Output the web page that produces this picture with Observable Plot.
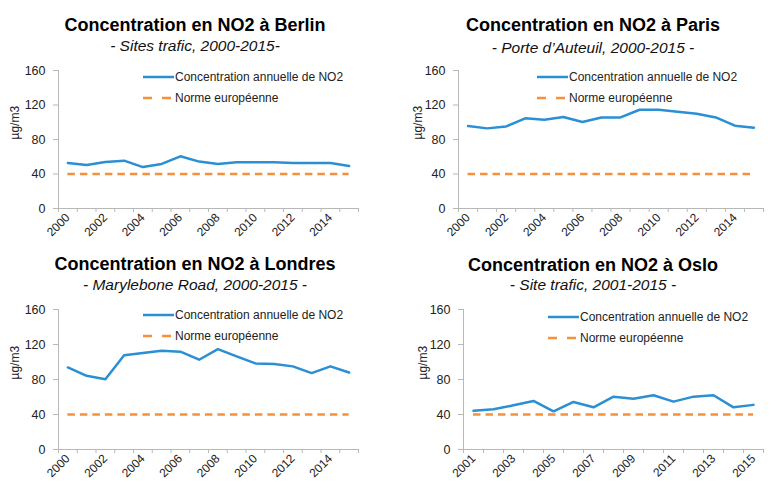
<!DOCTYPE html>
<html>
<head>
<meta charset="utf-8">
<script src="https://cdn.jsdelivr.net/npm/d3@7"></script>
<script src="https://cdn.jsdelivr.net/npm/@observablehq/plot@0.6"></script>
<style>
  html, body { margin: 0; padding: 0; background: #fff; }
  #root { position: relative; width: 779px; height: 504px; overflow: hidden; font-family: "Liberation Sans", Arial, Helvetica, sans-serif; color: #111; }
  .panel { position: absolute; }
  .title { position: absolute; text-align: center; font-weight: bold; font-size: 18px; line-height: 1; white-space: nowrap; color: #000; }
  .subtitle { position: absolute; text-align: center; font-style: italic; font-size: 15.5px; line-height: 1; white-space: nowrap; color: #111; }
  .leg { position: absolute; font-size: 12px; line-height: 1; white-space: nowrap; color: #222; }
  .legsw { position: absolute; }
</style>
</head>
<body>
<div id="root"></div>
<script>
// ---- Data ----
const berlinYears = [2000, 2001, 2002, 2003, 2004, 2005, 2006, 2007, 2008, 2009, 2010, 2011, 2012, 2013, 2014, 2015];
const berlinNO2   = [52.8, 50.5, 54.0, 55.5, 48.0, 51.7, 60.5, 54.4, 51.7, 53.6, 53.6, 53.6, 52.8, 52.8, 52.8, 49.3];

const parisYears = [2000, 2001, 2002, 2003, 2004, 2005, 2006, 2007, 2008, 2009, 2010, 2011, 2012, 2013, 2014, 2015];
const parisNO2   = [95.6, 92.9, 95.2, 104.5, 103.0, 106.0, 100.2, 105.6, 105.6, 114.5, 114.5, 112.2, 109.9, 105.6, 96.0, 93.7];

const londresYears = [2000, 2001, 2002, 2003, 2004, 2005, 2006, 2007, 2008, 2009, 2010, 2011, 2012, 2013, 2014, 2015];
const londresNO2   = [93.8, 84.2, 80.4, 107.6, 110.2, 112.9, 111.8, 102.6, 114.8, 106.4, 98.4, 97.6, 95.0, 87.3, 95.0, 88.0];

const osloYears = [2001, 2002, 2003, 2004, 2005, 2006, 2007, 2008, 2009, 2010, 2011, 2012, 2013, 2014, 2015];
const osloNO2   = [44.4, 45.9, 50.5, 55.5, 43.6, 54.3, 48.2, 60.4, 58.1, 62.0, 54.7, 60.4, 62.0, 48.2, 51.0];

const evenTickLabels = [2000, 2002, 2004, 2006, 2008, 2010, 2012, 2014];
const oddTickLabels  = [2001, 2003, 2005, 2007, 2009, 2011, 2013, 2015];
const yTicks = [0, 40, 80, 120, 160];
const normeEuropeenne = 40;

const titles = ["Concentration en NO2 à Berlin", "Concentration en NO2 à Paris", "Concentration en NO2 à Londres", "Concentration en NO2 à Oslo"];
const subtitles = ["- Sites trafic, 2000-2015-", "- Porte d’Auteuil, 2000-2015 -", "- Marylebone Road, 2000-2015 -", "- Site trafic, 2001-2015 -"];
const legendLabels = ["Concentration annuelle de NO2", "Norme européenne"];
const yLabel = "µg/m3";

const BLUE = "#2b8fd4";
const ORANGE = "#f5913a";
const AXIS = "#b8b8b8";

const root = document.getElementById("root");

function panel(cfg) {
  const {years, values, ticks, left, top, width, height, mL, mR, mT, mB, yLabelDx,
         title, subtitle, titleTop, subTop, centerX, legX, legY} = cfg;
  const data = years.map((y, i) => ({year: y, value: values[i]}));
  const first = years[0], last = years[years.length - 1];
  const boundaries = years.map(y => y - 0.5).concat([last + 0.5]);

  const chart = Plot.plot({
    width, height,
    marginLeft: mL, marginRight: mR, marginTop: mT, marginBottom: mB,
    style: {fontFamily: '"Liberation Sans", Arial, Helvetica, sans-serif', fontSize: "12px", color: "#222", background: "transparent", overflow: "visible"},
    x: {type: "linear", domain: [first - 0.5, last + 0.5], axis: null},
    y: {domain: [0, 160], axis: null},
    marks: [
      Plot.ruleY([0], {stroke: AXIS, strokeWidth: 1}),
      Plot.ruleX([first - 0.5], {stroke: AXIS, strokeWidth: 1}),
      Plot.axisX({ticks: boundaries, tickFormat: () => "", tickSize: 4, stroke: AXIS, label: null}),
      Plot.axisX({ticks, tickFormat: d => String(d), tickSize: 0, tickPadding: 7, tickRotate: -45, fontSize: 12, fill: "#222", label: null}),
      Plot.axisY({ticks: yTicks, tickSize: 5, tickPadding: 8, stroke: AXIS, fill: "#222", fontSize: 12.5, label: null}),
      Plot.text([yLabel], {frameAnchor: "left", rotate: -90, dx: -yLabelDx, fontSize: 12, fill: "#222"}),
      Plot.ruleY([normeEuropeenne], {x1: first, x2: last, stroke: ORANGE, strokeWidth: 2.5, strokeDasharray: "7.5,5"}),
      Plot.line(data, {x: "year", y: "value", stroke: BLUE, strokeWidth: 2.5})
    ]
  });
  const wrap = document.createElement("div");
  wrap.className = "panel";
  wrap.style.left = left + "px";
  wrap.style.top = top + "px";
  wrap.appendChild(chart);
  root.appendChild(wrap);

  const t = document.createElement("div");
  t.className = "title";
  t.textContent = title;
  t.style.left = (centerX - 200) + "px";
  t.style.width = "400px";
  t.style.top = titleTop + "px";
  root.appendChild(t);

  const s = document.createElement("div");
  s.className = "subtitle";
  s.textContent = subtitle;
  s.style.left = (centerX - 200) + "px";
  s.style.width = "400px";
  s.style.top = subTop + "px";
  root.appendChild(s);

  // legend
  const sw = document.createElementNS("http://www.w3.org/2000/svg", "svg");
  sw.setAttribute("width", 34);
  sw.setAttribute("height", 30);
  sw.setAttribute("class", "legsw");
  sw.style.left = legX + "px";
  sw.style.top = (legY - 5) + "px";
  sw.innerHTML = `<line x1="0" x2="31" y1="5" y2="5" stroke="${BLUE}" stroke-width="2.5"/>` +
                 `<line x1="0" x2="29" y1="26" y2="26" stroke="${ORANGE}" stroke-width="2.5" stroke-dasharray="9,10"/>`;
  root.appendChild(sw);
  legendLabels.forEach((lab, i) => {
    const d = document.createElement("div");
    d.className = "leg";
    d.textContent = lab;
    d.style.left = (legX + 32) + "px";
    d.style.top = (legY - 6 + i * 21) + "px";
    root.appendChild(d);
  });
}

panel({years: berlinYears, values: berlinNO2, ticks: evenTickLabels,
  left: 0, top: 0, width: 390, height: 252, mL: 58, mR: 32, mT: 70, mB: 44, yLabelDx: 43,
  title: titles[0], subtitle: subtitles[0], titleTop: 15.5, subTop: 38, centerX: 195, legX: 143, legY: 77});
panel({years: parisYears, values: parisNO2, ticks: evenTickLabels,
  left: 390, top: 0, width: 389, height: 252, mL: 68, mR: 16, mT: 70, mB: 44, yLabelDx: 40,
  title: titles[1], subtitle: subtitles[1], titleTop: 16, subTop: 39.5, centerX: 593, legX: 537, legY: 77});
panel({years: londresYears, values: londresNO2, ticks: evenTickLabels,
  left: 0, top: 252, width: 390, height: 252, mL: 58, mR: 32, mT: 57, mB: 55, yLabelDx: 43,
  title: titles[2], subtitle: subtitles[2], titleTop: 255, subTop: 276.5, centerX: 195, legX: 143, legY: 315});
panel({years: osloYears, values: osloNO2, ticks: oddTickLabels,
  left: 390, top: 252, width: 389, height: 252, mL: 73, mR: 16, mT: 57, mB: 55, yLabelDx: 40,
  title: titles[3], subtitle: subtitles[3], titleTop: 256, subTop: 277, centerX: 593, legX: 548, legY: 317});
</script>
</body>
</html>
